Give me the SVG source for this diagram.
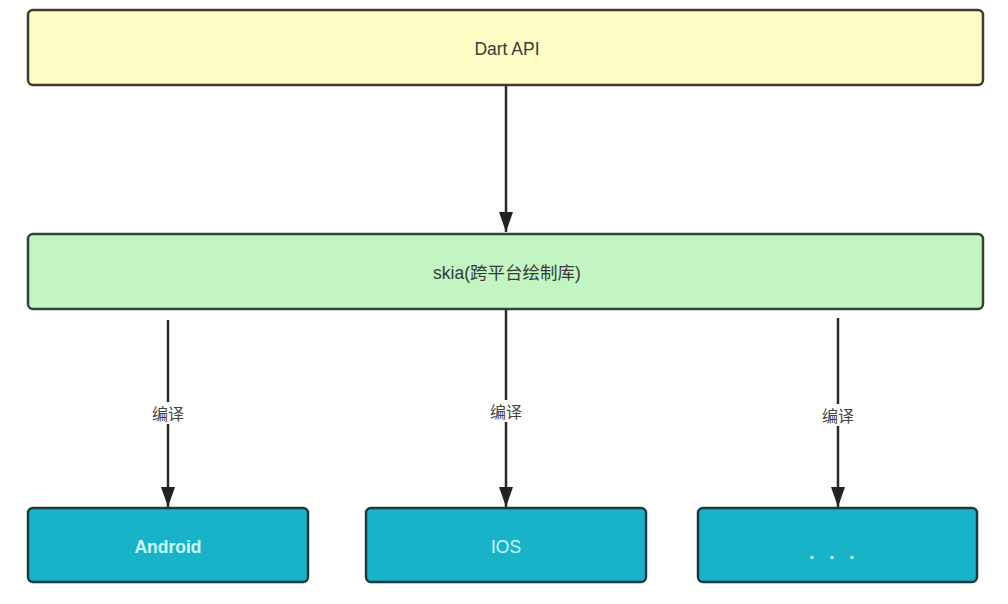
<svg xmlns="http://www.w3.org/2000/svg" width="1008" height="604" viewBox="0 0 1008 604">
<style>
.box{stroke-width:2.5}
.t{font-family:"Liberation Sans","Noto Sans CJK SC",sans-serif;font-size:17.5px;text-anchor:middle;dominant-baseline:central}
.dark{fill:#3a3a3a}
.light{fill:#c8faff}
.b{font-weight:bold}
.edge{stroke:#2a2a2a;stroke-width:2.5;fill:none;marker-end:url(#ah)}
.lblbg{fill:#ffffff}
.lbl{font-family:"Noto Sans CJK SC","Liberation Sans",sans-serif;font-size:16px;text-anchor:middle;dominant-baseline:central;fill:#444}
</style>
<defs>
<marker id="ah" viewBox="0 0 20 14" refX="20" refY="7" markerWidth="20" markerHeight="14" markerUnits="userSpaceOnUse" orient="auto">
<path d="M0,0 L20,7 L0,14 Z" fill="#222"/>
</marker>
</defs>
<rect width="1008" height="604" fill="#ffffff"/>
<g id="connectors">
<line class="edge" x1="506" y1="86" x2="506" y2="232"/>
<line class="edge" x1="168" y1="320" x2="168" y2="507"/>
<line class="edge" x1="506" y1="310" x2="506" y2="507"/>
<line class="edge" x1="838" y1="318" x2="838" y2="507"/>
<rect class="lblbg" x="149" y="402" width="38" height="22"/>
<text class="lbl" x="168" y="413">编译</text>
<rect class="lblbg" x="487" y="400" width="38" height="22"/>
<text class="lbl" x="506" y="411">编译</text>
<rect class="lblbg" x="819" y="404" width="38" height="22"/>
<text class="lbl" x="838" y="415">编译</text>
</g>
<g id="dart-api">
<rect class="box" x="28" y="10" width="955" height="75" rx="5" fill="#fffdc6" stroke="#3c3c2c"/>
<text class="t dark" x="507" y="49">Dart API</text>
</g>
<g id="skia">
<rect class="box" x="28" y="234" width="955" height="75" rx="5" fill="#c3f5c3" stroke="#344434"/>
<text class="t dark" x="507" y="273">skia(跨平台绘制库)</text>
</g>
<g id="android">
<rect class="box" x="28" y="508" width="280" height="74" rx="5" fill="#19b3c9" stroke="#183a40"/>
<text class="t light b" x="168" y="547">Android</text>
</g>
<g id="ios">
<rect class="box" x="366" y="508" width="280" height="74" rx="5" fill="#19b3c9" stroke="#183a40"/>
<text class="t light" x="506" y="547">IOS</text>
</g>
<g id="more">
<rect class="box" x="698" y="508" width="279" height="74" rx="5" fill="#19b3c9" stroke="#183a40"/>
<text class="t light b" x="834" y="552" style="font-size:20px;letter-spacing:4.4px">. . .</text>
</g>
</svg>
